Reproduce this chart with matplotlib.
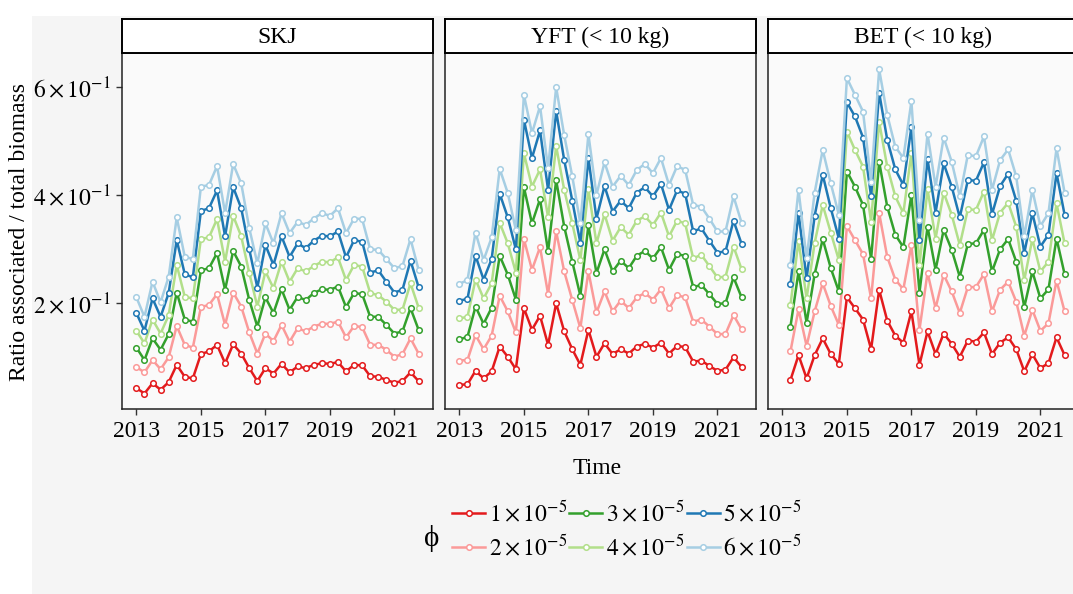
import numpy as np
import matplotlib
matplotlib.use("Agg")
import matplotlib.pyplot as plt
from matplotlib.patches import Rectangle

plt.rcParams['font.family'] = ['Liberation Serif', 'DejaVu Serif']
plt.rcParams['mathtext.fontset'] = 'stix'

# quarterly time steps 2013 Q1 .. 2021 Q4
quarters = np.arange(2013, 2022, 0.25)
quarters_bet = quarters[1:]   # BET series starts one quarter later

panel_titles = ['SKJ', 'YFT (< 10 kg)', 'BET (< 10 kg)']
phi_labels = [r'$1\times10^{-5}$', r'$2\times10^{-5}$', r'$3\times10^{-5}$',
              r'$4\times10^{-5}$', r'$5\times10^{-5}$', r'$6\times10^{-5}$']
colors = ['#E31A1C', '#FB9A99', '#33A02C', '#B2DF8A', '#1F78B4', '#A6CEE3']

# SKJ
skj_1 = [0.043, 0.033, 0.052, 0.040, 0.054, 0.086, 0.064, 0.061, 0.106, 0.111, 0.123, 0.089,
         0.124, 0.107, 0.080, 0.056, 0.080, 0.070, 0.088, 0.072, 0.083, 0.080, 0.086, 0.089,
         0.088, 0.091, 0.074, 0.086, 0.085, 0.065, 0.064, 0.058, 0.053, 0.056, 0.072, 0.056]
skj_2 = [0.082, 0.072, 0.095, 0.078, 0.100, 0.158, 0.123, 0.118, 0.193, 0.197, 0.217, 0.160,
         0.220, 0.194, 0.146, 0.107, 0.144, 0.130, 0.160, 0.129, 0.154, 0.148, 0.157, 0.162,
         0.162, 0.166, 0.137, 0.158, 0.156, 0.123, 0.123, 0.114, 0.101, 0.106, 0.135, 0.107]
skj_3 = [0.118, 0.095, 0.135, 0.114, 0.143, 0.220, 0.170, 0.166, 0.261, 0.265, 0.293, 0.225,
         0.297, 0.268, 0.206, 0.157, 0.211, 0.182, 0.226, 0.188, 0.212, 0.206, 0.219, 0.226,
         0.225, 0.231, 0.193, 0.219, 0.217, 0.175, 0.175, 0.160, 0.144, 0.148, 0.191, 0.151]
skj_4 = [0.149, 0.126, 0.170, 0.144, 0.178, 0.271, 0.212, 0.209, 0.319, 0.322, 0.356, 0.277,
         0.362, 0.324, 0.256, 0.194, 0.259, 0.228, 0.277, 0.240, 0.265, 0.259, 0.269, 0.277,
         0.276, 0.285, 0.243, 0.271, 0.268, 0.219, 0.215, 0.203, 0.188, 0.188, 0.237, 0.192]
skj_5 = [0.182, 0.149, 0.209, 0.175, 0.219, 0.317, 0.254, 0.248, 0.371, 0.376, 0.409, 0.324,
         0.415, 0.376, 0.300, 0.229, 0.308, 0.271, 0.324, 0.286, 0.311, 0.302, 0.316, 0.325,
         0.324, 0.333, 0.285, 0.317, 0.314, 0.257, 0.261, 0.240, 0.220, 0.225, 0.279, 0.230]
skj_6 = [0.211, 0.175, 0.240, 0.202, 0.249, 0.359, 0.286, 0.282, 0.416, 0.419, 0.454, 0.367,
         0.458, 0.422, 0.339, 0.274, 0.348, 0.311, 0.367, 0.330, 0.351, 0.345, 0.357, 0.367,
         0.362, 0.376, 0.330, 0.357, 0.356, 0.300, 0.299, 0.282, 0.265, 0.269, 0.319, 0.262]

# YFT (< 10 kg)
yft_1 = [0.049, 0.050, 0.075, 0.061, 0.074, 0.120, 0.101, 0.078, 0.191, 0.151, 0.177, 0.123,
         0.200, 0.148, 0.115, 0.086, 0.151, 0.101, 0.126, 0.106, 0.115, 0.107, 0.120, 0.125,
         0.118, 0.127, 0.107, 0.121, 0.119, 0.092, 0.094, 0.084, 0.075, 0.077, 0.100, 0.082]
yft_2 = [0.094, 0.095, 0.141, 0.115, 0.140, 0.214, 0.185, 0.146, 0.319, 0.262, 0.304, 0.217,
         0.333, 0.259, 0.206, 0.154, 0.259, 0.183, 0.222, 0.185, 0.205, 0.191, 0.211, 0.219,
         0.207, 0.226, 0.191, 0.215, 0.211, 0.166, 0.170, 0.157, 0.143, 0.143, 0.178, 0.152]
yft_3 = [0.133, 0.138, 0.194, 0.162, 0.192, 0.288, 0.253, 0.207, 0.415, 0.348, 0.393, 0.296,
         0.428, 0.342, 0.277, 0.214, 0.345, 0.256, 0.300, 0.259, 0.279, 0.265, 0.288, 0.297,
         0.283, 0.304, 0.262, 0.291, 0.288, 0.230, 0.234, 0.217, 0.199, 0.200, 0.248, 0.211]
yft_4 = [0.172, 0.175, 0.244, 0.209, 0.237, 0.349, 0.311, 0.257, 0.478, 0.416, 0.448, 0.359,
         0.491, 0.410, 0.348, 0.280, 0.411, 0.311, 0.365, 0.316, 0.341, 0.327, 0.353, 0.361,
         0.345, 0.368, 0.324, 0.353, 0.348, 0.283, 0.290, 0.269, 0.248, 0.249, 0.305, 0.263]
yft_5 = [0.205, 0.208, 0.288, 0.244, 0.282, 0.403, 0.359, 0.300, 0.540, 0.469, 0.520, 0.410,
         0.556, 0.465, 0.390, 0.312, 0.469, 0.357, 0.417, 0.370, 0.390, 0.376, 0.405, 0.415,
         0.398, 0.421, 0.373, 0.409, 0.403, 0.333, 0.339, 0.316, 0.294, 0.296, 0.353, 0.310]
yft_6 = [0.236, 0.243, 0.331, 0.280, 0.322, 0.449, 0.404, 0.336, 0.586, 0.515, 0.565, 0.450,
         0.600, 0.511, 0.435, 0.348, 0.513, 0.401, 0.461, 0.416, 0.436, 0.419, 0.447, 0.458,
         0.441, 0.469, 0.419, 0.454, 0.447, 0.382, 0.379, 0.357, 0.333, 0.333, 0.398, 0.349]

# BET (< 10 kg), from 2013 Q2
bet_1 = [0.058, 0.104, 0.061, 0.104, 0.135, 0.106, 0.088, 0.211, 0.191, 0.170, 0.115, 0.225,
         0.168, 0.140, 0.127, 0.185, 0.086, 0.148, 0.106, 0.144, 0.125, 0.101, 0.131, 0.129,
         0.146, 0.106, 0.127, 0.137, 0.115, 0.074, 0.106, 0.080, 0.089, 0.137, 0.104]
bet_2 = [0.111, 0.189, 0.121, 0.185, 0.237, 0.195, 0.160, 0.343, 0.317, 0.291, 0.209, 0.367,
         0.286, 0.244, 0.226, 0.308, 0.151, 0.257, 0.191, 0.253, 0.222, 0.182, 0.230, 0.230,
         0.254, 0.185, 0.225, 0.240, 0.203, 0.140, 0.188, 0.149, 0.163, 0.242, 0.185]
bet_3 = [0.157, 0.259, 0.164, 0.254, 0.319, 0.265, 0.222, 0.444, 0.416, 0.382, 0.282, 0.462,
         0.379, 0.327, 0.304, 0.401, 0.220, 0.342, 0.262, 0.336, 0.299, 0.249, 0.310, 0.311,
         0.336, 0.259, 0.300, 0.319, 0.277, 0.193, 0.259, 0.209, 0.226, 0.320, 0.254]
bet_4 = [0.197, 0.316, 0.209, 0.312, 0.382, 0.331, 0.280, 0.518, 0.484, 0.453, 0.351, 0.536,
         0.453, 0.398, 0.367, 0.478, 0.271, 0.411, 0.320, 0.405, 0.364, 0.308, 0.374, 0.373,
         0.407, 0.317, 0.368, 0.386, 0.342, 0.243, 0.319, 0.259, 0.277, 0.385, 0.311]
bet_5 = [0.235, 0.367, 0.246, 0.362, 0.438, 0.376, 0.320, 0.572, 0.546, 0.507, 0.398, 0.590,
         0.503, 0.448, 0.419, 0.527, 0.317, 0.467, 0.368, 0.459, 0.416, 0.359, 0.428, 0.427,
         0.461, 0.365, 0.417, 0.440, 0.390, 0.293, 0.367, 0.305, 0.327, 0.441, 0.364]
bet_6 = [0.271, 0.410, 0.283, 0.405, 0.484, 0.422, 0.364, 0.617, 0.586, 0.555, 0.425, 0.633,
         0.549, 0.490, 0.469, 0.574, 0.354, 0.514, 0.416, 0.507, 0.462, 0.398, 0.475, 0.472,
         0.509, 0.410, 0.465, 0.485, 0.435, 0.324, 0.410, 0.343, 0.367, 0.487, 0.405]

panels = [
    (quarters, [skj_1, skj_2, skj_3, skj_4, skj_5, skj_6]),
    (quarters, [yft_1, yft_2, yft_3, yft_4, yft_5, yft_6]),
    (quarters_bet, [bet_1, bet_2, bet_3, bet_4, bet_5, bet_6]),
]

W, H = 1073, 594
fig = plt.figure(figsize=(W / 100, H / 100), dpi=100)
fig.patch.set_facecolor('white')
fig.patches.append(Rectangle((32 / W, 0), 1, 1 - 16 / H, transform=fig.transFigure,
                             facecolor='#f5f5f5', edgecolor='none', zorder=-10))

fs = 17
pan_left = [122.3, 445.3, 768.3]
pan_w = 310.4
pan_top, pan_bot = 53, 409
strip_top = 19

handles = []
for k, (xs, series) in enumerate(panels):
    ax = fig.add_axes([pan_left[k] / W, 1 - pan_bot / H, pan_w / W, (pan_bot - pan_top) / H])
    ax.set_facecolor('#fafafa')
    for s, c, lab in zip(series, colors, phi_labels):
        ln, = ax.plot(xs, s, color=c, lw=1.8, marker='o', ms=4.0, mfc='white',
                      mec=c, mew=1.1, label=lab)
        if k == 0:
            handles.append(ln)
    ax.set_xlim(2012.5625, 2022.1875)
    ax.set_ylim(0.0043, 0.6635)
    ax.set_xticks([2013, 2015, 2017, 2019, 2021])
    ax.set_yticks([0.2, 0.4, 0.6])
    ax.tick_params(labelsize=fs, length=4.5, width=1.0, color='#333333', pad=4)
    if k == 0:
        ax.set_yticklabels([r'$2\times10^{-1}$', r'$4\times10^{-1}$', r'$6\times10^{-1}$'])
    else:
        ax.set_yticklabels([])
        ax.tick_params(axis='y', length=0)
    for sp in ax.spines.values():
        sp.set_color('#222222')
        sp.set_linewidth(1.1)

    sax = fig.add_axes([pan_left[k] / W, 1 - pan_top / H, pan_w / W, (pan_top - strip_top) / H])
    sax.set_facecolor('white')
    sax.set_xticks([])
    sax.set_yticks([])
    for sp in sax.spines.values():
        sp.set_color('black')
        sp.set_linewidth(1.4)
    sax.text(0.5, 0.45, panel_titles[k], ha='center', va='center', fontsize=fs,
             transform=sax.transAxes)

fig.text(20 / W, 1 - 232 / H, 'Ratio associated / total biomass', rotation=90,
         ha='center', va='center', fontsize=fs)
fig.text(597 / W, 1 - 468 / H, 'Time', ha='center', va='center', fontsize=fs)

fig.text(432 / W, 1 - 538 / H, '\u03d5', ha='center', va='center', fontsize=21,
         family=['Liberation Serif', 'DejaVu Serif'])
fig.legend(handles=handles, labels=phi_labels, ncol=3, loc='upper left',
           bbox_to_anchor=(452 / W, 1 - 500 / H), frameon=False, fontsize=fs,
           handlelength=1.4, handletextpad=0.15, columnspacing=0.1,
           labelspacing=0.35, borderpad=0, borderaxespad=0, numpoints=1)

fig.savefig('out.png', dpi=100)
